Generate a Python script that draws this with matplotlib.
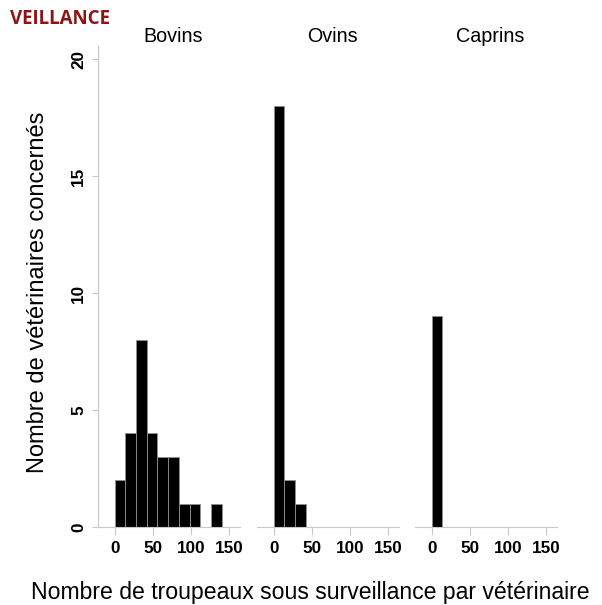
import matplotlib.pyplot as plt
import numpy as np

plt.rcParams['font.family'] = ['Liberation Sans', 'DejaVu Sans']

# histogram data: counts per 14-wide bin starting at 0
species = ["Bovins", "Ovins", "Caprins"]
bin_width = 14
bovins_counts = [2, 4, 8, 4, 3, 3, 1, 1, 0, 1]
ovins_counts = [18, 2, 1]
caprins_counts = [9]
all_counts = [bovins_counts, ovins_counts, caprins_counts]

x_ticks = [0, 50, 100, 150]
y_ticks = [0, 5, 10, 15, 20]

W, H = 602, 605
fig = plt.figure(figsize=(W / 100, H / 100), dpi=100)

grey = "#c8c8c8"
lefts = [98, 257, 415]
ax_w = 142
ax_top, ax_bot = 46.4, 527

for i, (name, counts) in enumerate(zip(species, all_counts)):
    ax = fig.add_axes([lefts[i] / W, (H - ax_bot) / H, ax_w / W, (ax_bot - ax_top) / H])
    edges = np.arange(len(counts)) * bin_width
    ax.bar(edges, counts, width=bin_width, align='edge', color='black',
           edgecolor='#909090', linewidth=0.6)
    ax.set_xlim(-21.8, 164)
    ax.set_ylim(0, 20.54)
    ax.set_xticks(x_ticks)
    ax.set_xticklabels([str(t) for t in x_ticks], fontsize=12.3, fontweight='bold')
    ax.tick_params(axis='x', length=6, width=0.8, color=grey, pad=4)
    for s in ['top', 'right']:
        ax.spines[s].set_visible(False)
    ax.spines['bottom'].set_color(grey)
    ax.spines['left'].set_color(grey)
    if i == 0:
        ax.set_yticks(y_ticks)
        ax.set_yticklabels([str(t) for t in y_ticks], fontsize=12.3, fontweight='bold',
                           rotation=90, va='center')
        ax.tick_params(axis='y', length=4.5, width=0.8, color=grey, pad=4)
    else:
        ax.spines['left'].set_visible(False)
        ax.set_yticks([])
    ax.set_title(name, fontsize=14.2, pad=3.5, x=0.528)

fig.text(38.5 / W, 1 - 292.5 / H, "Nombre de vétérinaires concernés", rotation=90,
         fontsize=17, ha='center', va='center')
fig.text(31 / W, 1 - 592 / H, "Nombre de troupeaux sous surveillance par vétérinaire",
         fontsize=16.6, ha='left', va='center')
fig.text(10 / W, 1 - 19 / H, "VEILLANCE", fontsize=13.5, fontweight='bold',
         color='#8e1515', ha='left', va='center', family=['Open Sans', 'DejaVu Sans'])

fig.savefig("out.png", dpi=100)
